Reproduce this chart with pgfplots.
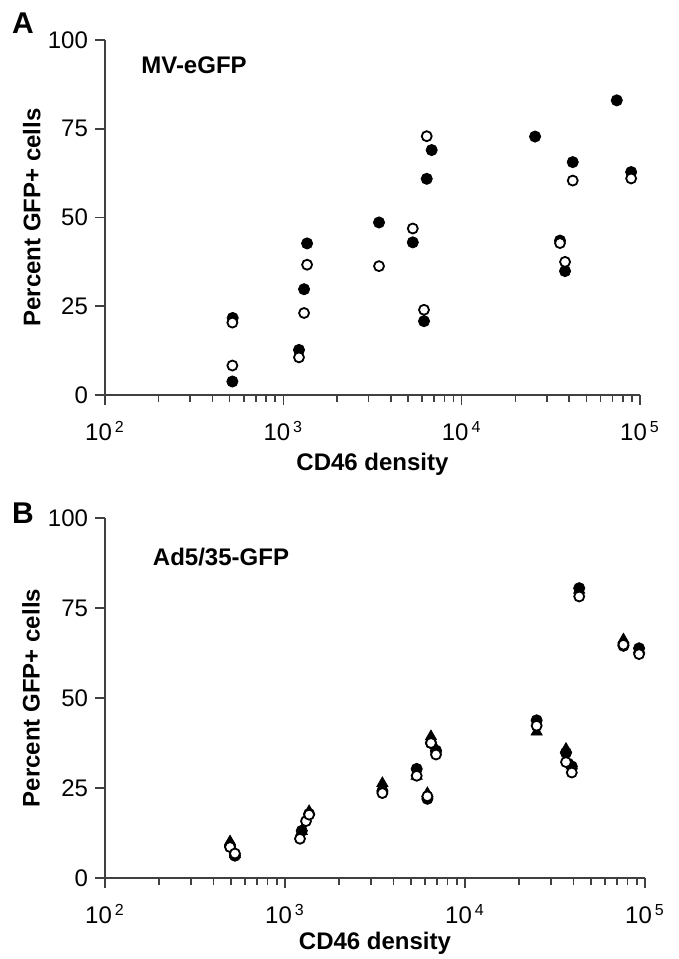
\documentclass[border=0pt]{standalone}
\usepackage{fontspec}
\setmainfont{Liberation Sans}
\usepackage{pgfplots}
\pgfplotsset{compat=1.18}

\newcommand{\pw}[1]{10\kern1.5pt\textsuperscript{#1}}

\pgfplotsset{
  gfppanel/.style={
    scale only axis,
    xmin=100, xmax=100000,
    ymin=0, ymax=100, ytick={0,25,50,75,100},
    xtick={100,1000,10000,100000},
    xticklabels={\pw{2},\pw{3},\pw{4},\pw{5}},
    minor xtick={200,300,400,500,600,700,800,900,2000,3000,4000,5000,6000,7000,8000,9000,20000,30000,40000,50000,60000,70000,80000,90000},
    axis x line*=bottom, axis y line*=left,
    axis line style={-, line width=0.8pt, black!75},
    tick align=outside,
    major tick length=5pt, minor tick length=3.5pt,
    every tick/.style={line width=0.8pt, black!75},
    tick label style={font=\fontsize{12}{14}\selectfont},
    xticklabel style={yshift=-4.5pt},
    /pgf/number format/assume math mode=true,
    label style={font=\bfseries\fontsize{12}{14}\selectfont},
    xlabel={CD46 density},
    ylabel={Percent GFP+ cells},
    ylabel style={at={(axis description cs:-0.137,0.5)}, anchor=center},
    clip=false,
  },
  filled/.style={only marks, mark=*, mark size=2.8pt, mark options={fill=black, draw=black}},
  open/.style={only marks, mark=*, mark size=2.5pt, mark options={fill=white, draw=black, line width=0.9pt}},
  tri/.style={only marks, mark=triangle*, mark size=3.2pt, mark options={fill=black, draw=black}},
}

\begin{document}
\begin{tikzpicture}
\useasboundingbox (-52.5pt,-282pt) rectangle (287pt,197.5pt);

% panel A
\begin{semilogxaxis}[gfppanel, at={(0,0)}, anchor=south west,
    width=267.5pt, height=177.5pt,
    xlabel style={at={(axis description cs:0.5,-0.195)}, anchor=center}]
\addplot[filled] coordinates {
(520,21.7) (518,3.8) (1359,42.7) (1307,29.8) (1224,12.7) (3440,48.6)
(5320,43.0) (6150,20.8) (6370,60.9) (6790,69.0) (25800,72.8) (35600,43.5)
(38000,34.9) (41960,65.6) (74100,83.0) (89200,62.8)
};
\addplot[open] coordinates {
(518,20.4) (518,8.3) (1359,36.7) (1307,23.1) (1224,10.6) (3440,36.3)
(5320,46.9) (6150,24.0) (6370,72.9) (35600,42.8) (38000,37.5) (41960,60.4)
(89200,61.0)
};
\end{semilogxaxis}

% panel B
\begin{semilogxaxis}[gfppanel, at={(0,-241.5pt)}, anchor=south west,
    width=270pt, height=180pt,
    xlabel style={at={(axis description cs:0.5,-0.18)}, anchor=center}]
\addplot[tri] coordinates {
(495,10.1) (527,6.5) (1239,13.0) (1361,18.5) (3475,26.3) (5390,28.3)
(6180,23.5) (6470,39.3) (6900,35.8) (25000,40.6) (36400,35.8) (39200,31.2)
(43100,80.0) (75900,66.2) (92700,63.5)
};
\addplot[filled] coordinates {
(495,8.8) (527,6.2) (1239,13.1) (1361,17.8) (3475,24.2) (5390,30.3)
(6180,22.0) (6470,37.5) (6900,35.4) (25000,43.8) (36400,34.8) (39200,31.0)
(43100,80.5) (75900,64.5) (92700,63.8)
};
\addplot[open] coordinates {
(495,8.6) (527,6.8) (1211,10.9) (1308,15.8) (1361,17.6) (3475,23.6)
(5390,28.4) (6180,22.7) (6470,37.5) (6900,34.3) (25000,42.3) (36400,32.2)
(39200,29.3) (43100,78.2) (75900,64.8) (92700,62.2)
};
\end{semilogxaxis}

\node[font=\bfseries\fontsize{15}{17}\selectfont] at (-41pt,186pt) {A};
\node[font=\bfseries\fontsize{15}{17}\selectfont] at (-41pt,-59pt) {B};
\node[font=\bfseries\fontsize{12}{14}\selectfont] at (44.5pt,165pt) {MV-eGFP};
\node[font=\bfseries\fontsize{12}{14}\selectfont] at (58pt,-81pt) {Ad5/35-GFP};
\end{tikzpicture}
\end{document}
